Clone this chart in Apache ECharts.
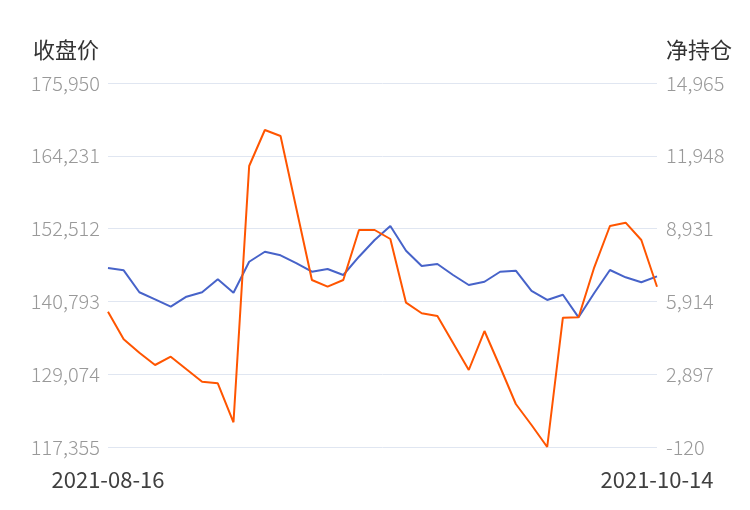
<!DOCTYPE html>
<html><head><meta charset="utf-8">
<script src="https://cdn.jsdelivr.net/npm/echarts@6/dist/echarts.min.js"></script>
<style>html,body{margin:0;padding:0;background:#fff}#c{width:750px;height:510px}</style>
</head><body><div id="c"></div>
<script>
const dates = ['2021-08-16','2021-08-17','2021-08-18','2021-08-19','2021-08-20','2021-08-23','2021-08-24','2021-08-25','2021-08-26','2021-08-27','2021-08-30','2021-08-31','2021-09-01','2021-09-02','2021-09-03','2021-09-06','2021-09-07','2021-09-08','2021-09-09','2021-09-10','2021-09-13','2021-09-14','2021-09-15','2021-09-16','2021-09-17','2021-09-22','2021-09-23','2021-09-24','2021-09-27','2021-09-28','2021-09-29','2021-09-30','2021-10-11','2021-10-12','2021-10-13','2021-10-14'];
const closePrice = [146170,145800,142260,141130,139940,141550,142260,144350,142190,147180,148790,148210,146970,145570,146010,145040,147990,150680,152930,148960,146490,146810,145040,143430,143960,145570,145740,142470,141020,141870,138230,142150,145850,144670,143870,144830];
const netPosition = [5487,4343,3788,3278,3622,3100,2586,2520,904,11525,13017,12769,9785,6801,6523,6801,8873,8873,8500,5860,5421,5309,4190,3071,4687,3195,1662,792,-120,5239,5255,7327,9039,9176,8459,6523];
const leftAxis = {name:'收盘价', min:117355, max:175950, interval:11719};
const rightAxis = {name:'净持仓', min:-120, max:14965, interval:3017};
const fmt = v => Math.round(v).toLocaleString('en-US');
const font = '"Noto Sans CJK SC","Noto Sans",sans-serif';
const chart = echarts.init(document.getElementById('c'));
chart.setOption({
  animation:false,
  grid:{left:108,right:93,top:83,bottom:63},
  xAxis:{type:'category',data:dates,boundaryGap:false,
    axisLine:{show:false},axisTick:{show:false},splitLine:{show:false},
    axisLabel:{interval:0,margin:22,color:'#404040',fontSize:22,fontFamily:font,
      formatter:(v,i)=> (i===0||i===dates.length-1)?v:''}},
  yAxis:[
    {type:'value',name:leftAxis.name,min:leftAxis.min,max:leftAxis.max,interval:leftAxis.interval,position:'left',
     nameGap:22,nameTextStyle:{color:'#333',fontSize:22,fontFamily:font,align:'right',padding:[0,9,0,0]},
     axisLine:{show:false},axisTick:{show:false},
     splitLine:{lineStyle:{color:'#e0e6f1'}},
     axisLabel:{color:'#999',fontSize:20,fontWeight:300,fontFamily:font,margin:8,formatter:fmt}},
    {type:'value',name:rightAxis.name,min:rightAxis.min,max:rightAxis.max,interval:rightAxis.interval,position:'right',
     nameGap:22,nameTextStyle:{color:'#333',fontSize:22,fontFamily:font,align:'left',padding:[0,0,0,9]},
     axisLine:{show:false},axisTick:{show:false},splitLine:{show:false},
     axisLabel:{color:'#999',fontSize:20,fontWeight:300,fontFamily:font,margin:9,formatter:fmt}}
  ],
  series:[
    {type:'line',data:closePrice,yAxisIndex:0,showSymbol:false,lineStyle:{color:'#4763c9',width:2},itemStyle:{color:'#4763c9'}},
    {type:'line',data:netPosition,yAxisIndex:1,showSymbol:false,lineStyle:{color:'#ff5500',width:2},itemStyle:{color:'#ff5500'}}
  ]
});
</script></body></html>
